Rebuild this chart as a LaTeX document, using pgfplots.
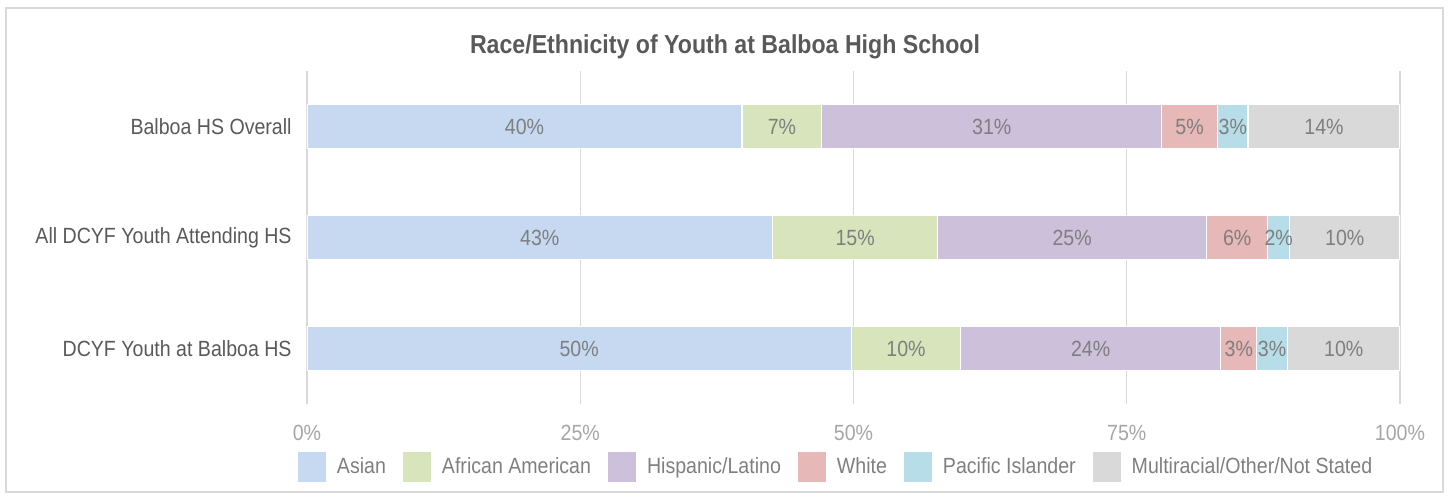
\documentclass[border=0pt]{standalone}
\usepackage{pgfplots}
\pgfplotsset{compat=1.18}
\usepackage{fontspec}
\setmainfont{Liberation Sans}[FakeStretch=0.89]

\definecolor{cAsian}{HTML}{C6D9F1}
\definecolor{cAfrican}{HTML}{D8E4BC}
\definecolor{cHispanic}{HTML}{CCC0DA}
\definecolor{cWhite}{HTML}{E6B8B7}
\definecolor{cPacific}{HTML}{B7DEE8}
\definecolor{cMulti}{HTML}{D9D9D9}
\definecolor{gridc}{HTML}{D9D9D9}
\definecolor{titlec}{HTML}{595959}
\definecolor{labc}{HTML}{595959}
\definecolor{datac}{HTML}{7F7F7F}
\definecolor{tickc}{HTML}{A6A6A6}

\begin{document}
\begin{tikzpicture}
% page = 1450 x 499 px at 0.5pt per px, plot area lower-left at (0,0)
\path[use as bounding box] (-153.5pt,-47.5pt) rectangle (571.5pt,202pt);
\draw[gridc, line width=0.6pt] (-150.5pt,-44pt) rectangle (568pt,198pt);
\node[font=\bfseries\fontsize{13}{15}\selectfont, text=titlec] at (209pt,178.5pt)
  {Race/Ethnicity of Youth at Balboa High School};

\begin{axis}[
  at={(0pt,0pt)}, anchor=south west,
  scale only axis, width=546.5pt, height=166.5pt,
  xbar stacked, bar width=22pt,
  xmin=0, xmax=100, ymin=-0.5, ymax=2.5,
  xtick={0,25,50,75,100},
  xticklabels={0\%,25\%,50\%,75\%,100\%},
  ytick={0,1,2},
  yticklabels={DCYF Youth at Balboa HS, All DCYF Youth Attending HS, Balboa HS Overall},
  xmajorgrids, grid style={gridc, line width=0.6pt},
  axis line style={draw=none},
  major tick length=0pt,
  tick label style={font=\fontsize{11}{13}\selectfont},
  xticklabel style={text=tickc, anchor=center, yshift=-14.5pt},
  yticklabel style={text=labc, anchor=east, inner sep=0pt, xshift=-7.5pt},
  point meta=explicit symbolic,
  nodes near coords,
  every node near coord/.append style={anchor=center, text=datac,
    font=\fontsize{11}{13}\selectfont},
  legend columns=6,
  legend cell align=left,
  legend image code/.code={\fill[#1,draw=none] (0pt,-7.5pt) rectangle (14pt,7.5pt);},
  legend style={at={(0,0)}, anchor=west, xshift=-4.5pt, yshift=-31.5pt,
    draw=none, fill=none, inner sep=0pt, outer sep=0pt,
    font=\fontsize{11}{13}\selectfont, text=datac,
    /tikz/every odd column/.style={column sep=3.5pt},
    /tikz/every even column/.style={column sep=6.5pt}},
]
\addplot[fill=cAsian, draw=white, line width=0.6pt] coordinates
  {(49.8,0) [50\%] (42.6,1) [43\%] (39.8,2) [40\%]};
\addplot[fill=cAfrican, draw=white, line width=0.6pt] coordinates
  {(10.0,0) [10\%] (15.1,1) [15\%] (7.3,2) [7\%]};
\addplot[fill=cHispanic, draw=white, line width=0.6pt] coordinates
  {(23.8,0) [24\%] (24.6,1) [25\%] (31.1,2) [31\%]};
\addplot[fill=cWhite, draw=white, line width=0.6pt] coordinates
  {(3.3,0) [3\%] (5.6,1) [6\%] (5.1,2) [5\%]};
\addplot[fill=cPacific, draw=white, line width=0.6pt] coordinates
  {(2.8,0) [3\%] (2.0,1) [2\%] (2.8,2) [3\%]};
\addplot[fill=cMulti, draw=white, line width=0.6pt] coordinates
  {(10.3,0) [10\%] (10.1,1) [10\%] (13.9,2) [14\%]};
\legend{Asian, African American, Hispanic/Latino, White, Pacific Islander, Multiracial/Other/Not Stated}
\end{axis}
\end{tikzpicture}
\end{document}
